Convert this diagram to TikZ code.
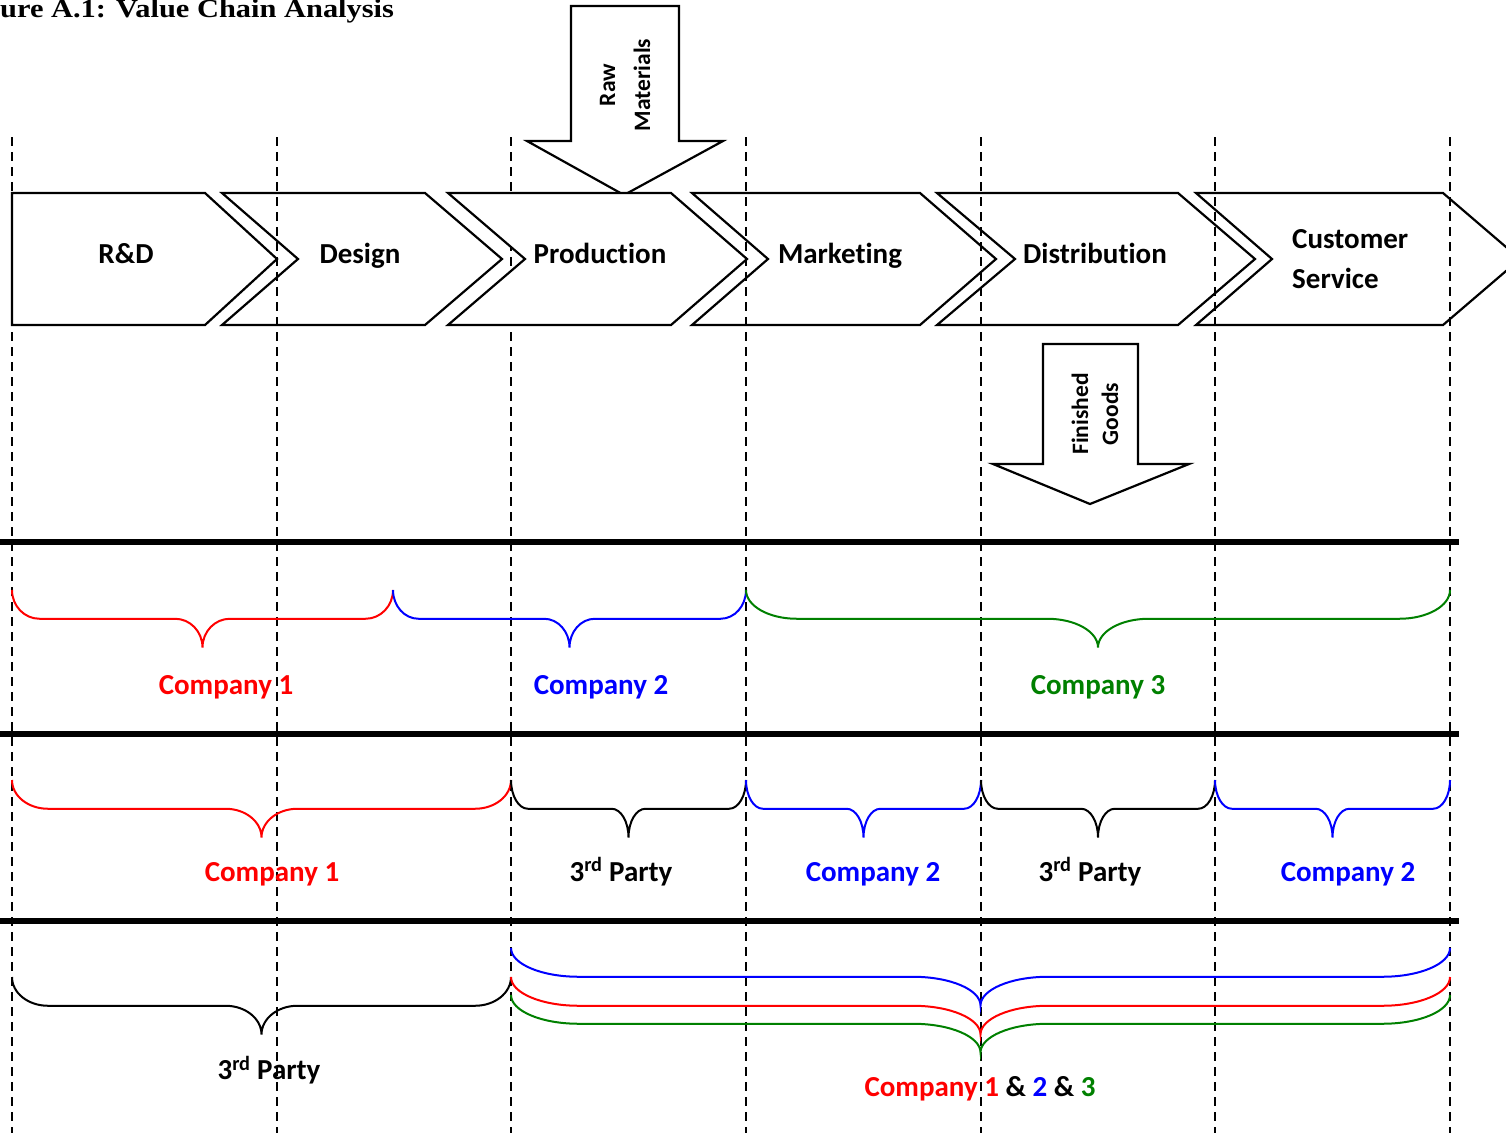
\documentclass[tikz,border=0pt]{standalone}
\usepackage{fontspec}
\setmainfont{Carlito}[Ligatures=NoCommon]
\newfontfamily\titlefont{Liberation Serif}
\definecolor{cRed}{RGB}{255,0,0}
\definecolor{cBlue}{RGB}{0,0,255}
\definecolor{cGreen}{RGB}{0,128,0}
\tikzset{
  chev/.style={draw=black, line width=2.2pt, line join=miter, fill=white},
  vdash/.style={draw=black, line width=2pt, dash pattern=on 9pt off 6pt},
  hrule/.style={draw=black, line width=5.5pt},
  brc/.style={line width=2pt},
  lab/.style={font=\fontsize{29}{35}\selectfont\bfseries, anchor=base, inner sep=0pt},
  vlab/.style={font=\fontsize{23.5}{28}\selectfont\bfseries, anchor=base, rotate=90, inner sep=0pt},
}
\newcommand{\cbrace}[4]{%
  \pgfmathsetmacro\brXa{#2}%
  \pgfmathsetmacro\brXb{#3}%
  \pgfmathsetmacro\brExt{0.072*(#3-#2)}%
  \pgfmathsetmacro\brMid{(#2+#3)/2}%
  \pgfmathsetmacro\brYe{#4}%
  \pgfmathsetmacro\brYf{#4+28.75}%
  \pgfmathsetmacro\brYt{#4+57.5}%
  \draw[brc,#1] (\brXa,\brYe) .. controls (\brXa,\brYe+15.9) and (\brXa+0.448*\brExt,\brYf) .. (\brXa+\brExt,\brYf)
    -- (\brMid-\brExt,\brYf) .. controls (\brMid-0.448*\brExt,\brYf) and (\brMid,\brYt-15.9) .. (\brMid,\brYt)
    .. controls (\brMid,\brYt-15.9) and (\brMid+0.448*\brExt,\brYf) .. (\brMid+\brExt,\brYf)
    -- (\brXb-\brExt,\brYf) .. controls (\brXb-0.448*\brExt,\brYf) and (\brXb,\brYe+15.9) .. (\brXb,\brYe);
}
\begin{document}
\begin{tikzpicture}[x=1pt,y=-1pt]
\useasboundingbox (0,0) rectangle (1506,1133);
\clip (0,0) rectangle (1506,1133);

% title
\node[anchor=base west, inner sep=0pt, font=\titlefont\bfseries\fontsize{26}{30}\selectfont] (title) at (0,17.5)
  {\scalebox{1.17}[1]{ure A.1: Value Chain Analysis}};

% chevrons (behind dashed lines)
\draw[chev] (12,193) -- (205,193) -- (277,259) -- (205,325) -- (12,325) -- cycle;
\draw[chev] (222,193) -- (425,193) -- (502,259) -- (425,325) -- (222,325) -- (298,259) -- cycle;
\draw[chev] (692,193) -- (920,193) -- (996,259) -- (920,325) -- (692,325) -- (768,259) -- cycle;
\draw[chev] (937,193) -- (1178,193) -- (1255,259) -- (1178,325) -- (937,325) -- (1015,259) -- cycle;
\draw[chev] (1196,193) -- (1443,193) -- (1520,259) -- (1443,325) -- (1196,325) -- (1272,259) -- cycle;

% dashed column lines
\foreach \xx in {12,277,511,746,981,1215,1450}
  \draw[vdash] (\xx,137) -- (\xx,1133);

% raw materials arrow
\draw[chev] (571,6) -- (679,6) -- (679,141) -- (723,141) -- (624,195) -- (527,141) -- (571,141) -- cycle;
% production chevron on top
\draw[chev] (448,193) -- (671,193) -- (747,259) -- (671,325) -- (448,325) -- (525,259) -- cycle;

% finished goods arrow
\draw[chev] (1043,344) -- (1138,344) -- (1138,464) -- (1189,464) -- (1090,504) -- (993,464) -- (1043,464) -- cycle;

% thick horizontal rules
\draw[hrule] (0,542) -- (1459,542);
\draw[hrule] (0,734) -- (1459,734);
\draw[hrule] (0,921) -- (1459,921);

% row 1 braces
\cbrace{cRed}{12}{393}{590}
\cbrace{cBlue}{393}{746}{590}
\cbrace{cGreen}{746}{1450}{590}
% row 2 braces
\cbrace{cRed}{12}{511}{780}
\cbrace{black}{511}{746}{780}
\cbrace{cBlue}{746}{981}{780}
\cbrace{black}{981}{1215}{780}
\cbrace{cBlue}{1215}{1450}{780}
% row 3 braces
\cbrace{black}{12}{511}{977}
\cbrace{cBlue}{511}{1450}{948}
\cbrace{cRed}{511}{1450}{977}
\cbrace{cGreen}{511}{1450}{995}

% chevron labels
\node[lab] (rd) at (126,263.5) {R\&D};
\node[lab] (design) at (360,263.5) {Design};
\node[lab] (production) at (600,263.5) {Production};
\node[lab] (marketing) at (840,263.5) {Marketing};
\node[lab] (distribution) at (1095,263.5) {Distribution};
\node[lab, anchor=base west] (cs1) at (1292,248.3) {Customer};
\node[lab, anchor=base west] (cs2) at (1292,288.3) {Service};

% arrow labels
\node[vlab] (raw) at (615,85) {Raw};
\node[vlab] (materials) at (650,85) {Materials};
\node[vlab] (finished) at (1088,414) {Finished};
\node[vlab] (goods) at (1118,414) {Goods};

% row 1 labels
\node[lab, text=cRed] (r1c1) at (226,694) {Company 1};
\node[lab, text=cBlue] (r1c2) at (601,694) {Company 2};
\node[lab, text=cGreen] (r1c3) at (1098,694) {Company 3};
% row 2 labels
\node[lab, text=cRed] (r2c1) at (272,881) {Company 1};
\node[lab] (r2p1) at (621,881) {3\textsuperscript{rd} Party};
\node[lab, text=cBlue] (r2c2) at (873,881) {Company 2};
\node[lab] (r2p2) at (1090,881) {3\textsuperscript{rd} Party};
\node[lab, text=cBlue] (r2c3) at (1348,881) {Company 2};
% row 3 labels
\node[lab] (r3p) at (269,1079.5) {3\textsuperscript{rd} Party};
\node[lab] (r3all) at (980,1096) {\textcolor{cRed}{Company 1} \& \textcolor{cBlue}{2} \& \textcolor{cGreen}{3}};
\end{tikzpicture}
\end{document}
